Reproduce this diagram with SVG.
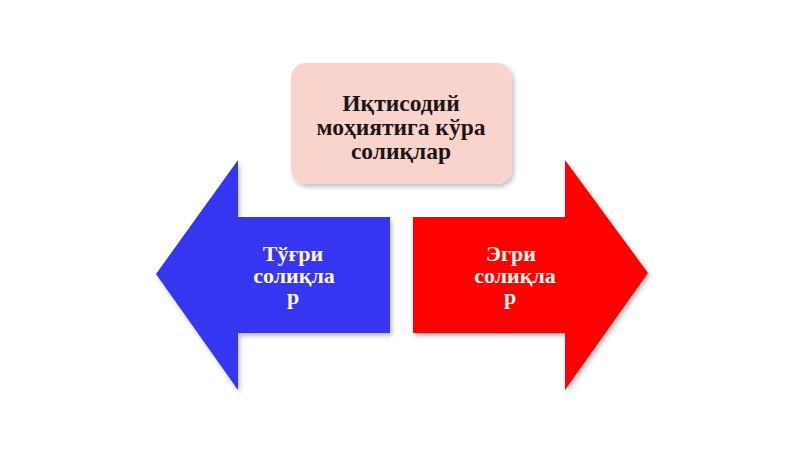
<svg xmlns="http://www.w3.org/2000/svg" width="800" height="449" viewBox="0 0 800 449">
<defs>
<filter id="sh" x="-10%" y="-10%" width="125%" height="125%">
<feGaussianBlur in="SourceAlpha" stdDeviation="2.5"/>
<feOffset dx="2" dy="3"/>
<feComponentTransfer><feFuncA type="linear" slope="0.25"/></feComponentTransfer>
<feMerge><feMergeNode/><feMergeNode in="SourceGraphic"/></feMerge>
</filter>
</defs>
<style>
.t{font-family:"Liberation Serif","DejaVu Serif",serif;font-weight:bold;text-anchor:middle}
.top{font-size:23.5px;fill:#1e1414}
.w{font-size:22px;fill:#fff8ee}
</style>
<rect width="800" height="449" fill="#ffffff"/>
<g id="top">
<rect x="291" y="63" width="221" height="121" rx="15" fill="#f8d4cc" filter="url(#sh)"/>
<text class="t top" x="401" y="111">Иқтисодий</text>
<text class="t top" x="401" y="135">моҳиятига кўра</text>
<text class="t top" x="401" y="159">солиқлар</text>
</g>
<g id="left">
<polygon points="156,274 238,160 238,217 390,217 390,333 238,333 238,390" fill="#3434f2" filter="url(#sh)"/>
<text class="t w" x="293" y="261">Тўғри</text>
<text class="t w" x="294" y="282.5">солиқла</text>
<text class="t w" x="293" y="304">р</text>
</g>
<g id="right">
<polygon points="413,217 565,217 565,160 648,273 565,390 565,333 413,333" fill="#ff0000" filter="url(#sh)"/>
<text class="t w" x="511" y="261">Эгри</text>
<text class="t w" x="515" y="282.5">солиқла</text>
<text class="t w" x="510" y="304">р</text>
</g>
<g id="connectors"></g>
</svg>
